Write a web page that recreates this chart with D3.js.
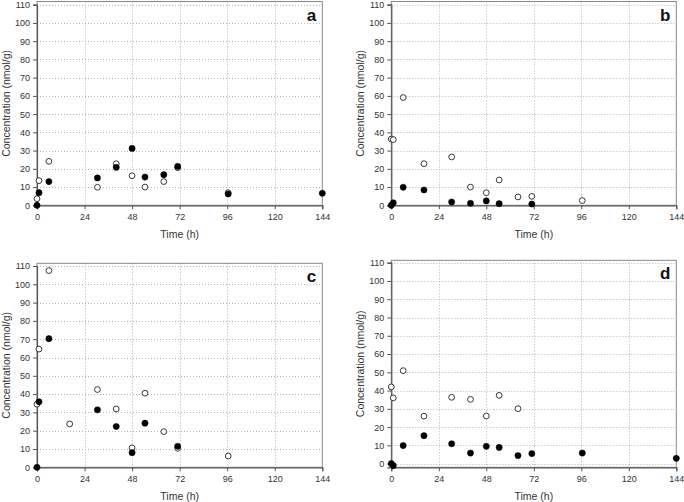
<!DOCTYPE html>
<html><head><meta charset="utf-8">
<script src="https://cdn.jsdelivr.net/npm/d3@7"></script>
<style>
html,body{margin:0;padding:0;background:#fff;}
svg{display:block;font-family:"Liberation Sans",Arial,sans-serif;}
svg text{font-family:"Liberation Sans",Arial,sans-serif;}
</style></head>
<body><svg id="chart" width="684" height="502"></svg>
<script>
const xTicks = [0, 24, 48, 72, 96, 120, 144];
const yTicks = [0, 10, 20, 30, 40, 50, 60, 70, 80, 90, 100, 110];
const panelLabels = ["a", "b", "c", "d"];
const xTitle = "Time (h)";
const yTitle = "Concentration (nmol/g)";

// Panel a
const aFilledTime = [0, 1, 6, 30.5, 40, 48, 54.5, 64, 71, 96.5, 144];
const aFilledConc = [0, 6.9, 13, 15, 20.8, 31.2, 15.5, 16.8, 21.3, 6.2, 6.6];
const aOpenTime = [0, 1, 6, 30.5, 40, 48, 54.5, 64, 71, 96.5];
const aOpenConc = [3.6, 13.5, 24.1, 9.9, 22.8, 16.2, 10, 13, 20.6, 6.9];

// Panel b
const bFilledTime = [0, 1, 6, 16.5, 30.5, 40, 48, 54.5, 71];
const bFilledConc = [0, 1.4, 9.9, 8.4, 1.8, 1.1, 2.4, 0.9, 0.7];
const bOpenTime = [0, 1, 6, 16.5, 30.5, 40, 48, 54.5, 64, 71, 96.5];
const bOpenConc = [36.3, 36, 59.1, 22.8, 26.5, 10, 6.9, 13.9, 4.6, 4.9, 2.6];

// Panel c
const cFilledTime = [0, 1, 6, 30.5, 40, 48, 54.5, 71];
const cFilledConc = [0, 35.8, 70.3, 31.4, 22.3, 8, 24.1, 11.5];
const cOpenTime = [0, 1, 6, 16.5, 30.5, 40, 48, 54.5, 64, 71, 96.5];
const cOpenConc = [34.5, 64.6, 107.5, 23.7, 42.5, 31.9, 10.6, 40.5, 19.5, 10.4, 6.2];

// Panel d
const dFilledTime = [0, 1, 6, 16.5, 30.5, 40, 48, 54.5, 64, 71, 96.5, 144];
const dFilledConc = [0, -1.1, 9.9, 15.3, 10.9, 5.8, 9.5, 8.9, 4.4, 5.5, 5.8, 2.9];
const dOpenTime = [0, 1, 6, 16.5, 30.5, 40, 48, 54.5, 64];
const dOpenConc = [42, 36, 50.9, 26, 36.3, 35.2, 26.1, 37.4, 30.1];

const panels = [
  {label: panelLabels[0], ft: aFilledTime, fc: aFilledConc, ot: aOpenTime, oc: aOpenConc,
   left: 37, right: 322.3, top: 1.5, yDom: [0, 110], yRange: [205.3, 4.7]},
  {label: panelLabels[1], ft: bFilledTime, fc: bFilledConc, ot: bOpenTime, oc: bOpenConc,
   left: 391.3, right: 676.3, top: 1.5, yDom: [0, 110], yRange: [205.3, 4.7]},
  {label: panelLabels[2], ft: cFilledTime, fc: cFilledConc, ot: cOpenTime, oc: cOpenConc,
   left: 37, right: 322.3, top: 263.3, yDom: [0, 110], yRange: [467.3, 266]},
  {label: panelLabels[3], ft: dFilledTime, fc: dFilledConc, ot: dOpenTime, oc: dOpenConc,
   left: 391.3, right: 676.3, top: 260.3, yDom: [-2, 110], yRange: [467.3, 262.7]}
];

const svg = d3.select("#chart");

panels.forEach(p => {
  const x = d3.scaleLinear().domain([0, 144]).range([p.left, p.right]);
  const y = d3.scaleLinear().domain(p.yDom).range(p.yRange);
  const bottom = p.yRange[0];
  const g = svg.append("g");

  // gridlines
  g.selectAll(".hg").data(yTicks.filter(v => y(v) < bottom - 1)).enter().append("line")
    .attr("x1", p.left).attr("x2", p.right)
    .attr("y1", d => Math.round(y(d)) + 0.5).attr("y2", d => Math.round(y(d)) + 0.5)
    .attr("stroke", "#b4b4b4").attr("stroke-width", 1).attr("stroke-dasharray", "1,2");
  g.selectAll(".vg").data(xTicks.slice(1, -1)).enter().append("line")
    .attr("x1", d => Math.round(x(d)) + 0.5).attr("x2", d => Math.round(x(d)) + 0.5)
    .attr("y1", p.top).attr("y2", bottom)
    .attr("stroke", "#b4b4b4").attr("stroke-width", 1).attr("stroke-dasharray", "1,2");

  // frame
  g.append("rect").attr("x", p.left).attr("y", p.top)
    .attr("width", p.right - p.left).attr("height", bottom - p.top)
    .attr("fill", "none").attr("stroke", "#888").attr("stroke-width", 1);

  // axes
  const xAxis = d3.axisBottom(x).tickValues(xTicks).tickSize(4).tickPadding(4);
  const gx = g.append("g").attr("transform", `translate(0,${bottom})`).call(xAxis);
  const yAxis = d3.axisLeft(y).tickValues(yTicks).tickSize(4).tickPadding(3);
  const gy = g.append("g").attr("transform", `translate(${p.left},0)`).call(yAxis);
  [gx, gy].forEach(a => {
    a.select(".domain").attr("stroke", "#555").attr("stroke-width", 1.2);
    a.selectAll(".tick line").attr("stroke", "#555");
    a.selectAll(".tick text").attr("fill", "#333").style("font-size", "9px")
      .style("font-family", "Liberation Sans, Arial, sans-serif");
  });

  // titles
  g.append("text").attr("x", (p.left + p.right) / 2).attr("y", bottom + 33)
    .attr("text-anchor", "middle").attr("fill", "#333").style("font-size", "10.5px").text(xTitle);
  const cy = (p.top + bottom) / 2;
  g.append("text").attr("transform", `translate(${p.left - 27},${cy}) rotate(-90)`)
    .attr("text-anchor", "middle").attr("fill", "#333").style("font-size", "10.5px").text(yTitle);

  // panel label
  g.append("text").attr("x", p.right - 6).attr("y", p.top + 19)
    .attr("text-anchor", "end").attr("fill", "#111").style("font-size", "17px")
    .style("font-weight", "bold").style("font-family", "Liberation Sans, Arial, sans-serif")
    .text(p.label);

  // points
  const filled = p.ft.map((t, i) => ({t, c: p.fc[i]}));
  const open = p.ot.map((t, i) => ({t, c: p.oc[i]}));
  g.selectAll(".op").data(open).enter().append("circle")
    .attr("cx", d => x(d.t)).attr("cy", d => y(d.c)).attr("r", 2.9)
    .attr("fill", "#fff").attr("stroke", "#222").attr("stroke-width", 0.9);
  g.selectAll(".fp").data(filled).enter().append("circle")
    .attr("cx", d => x(d.t)).attr("cy", d => y(d.c)).attr("r", 3.1)
    .attr("fill", "#000").attr("stroke", "#000").attr("stroke-width", 0.5);
});
</script></body></html>
